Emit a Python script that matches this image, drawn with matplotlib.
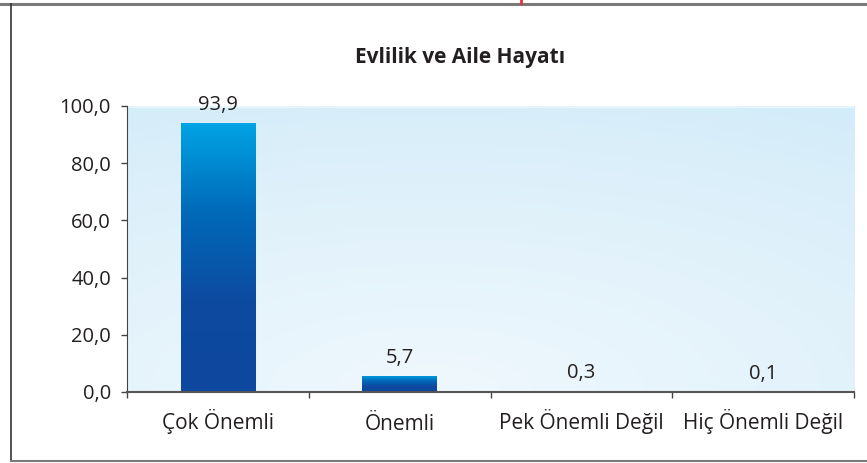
import numpy as np
import matplotlib
matplotlib.use("Agg")
import matplotlib.pyplot as plt
from matplotlib.colors import LinearSegmentedColormap
from matplotlib.lines import Line2D

categories = ["Çok Önemli", "Önemli", "Pek Önemli Değil", "Hiç Önemli Değil"]
values = [93.9, 5.7, 0.3, 0.1]
yticks = [0, 20, 40, 60, 80, 100]

plt.rcParams['font.family'] = ['Open Sans', 'DejaVu Sans']

fig = plt.figure(figsize=(8.67, 4.63), dpi=100)
ax = fig.add_axes([127 / 867, 1 - 392 / 463, (854 - 127) / 867, (392 - 106) / 463])

x = np.arange(len(categories))
n = len(categories)

# background: light in the lower middle, a bit deeper blue toward top / sides
gx, gy = np.meshgrid(np.linspace(0, 1, 300), np.linspace(0, 1, 300))
t = np.sqrt(((gx - 0.42) * 1.0) ** 2 + ((gy - 1.0) * 1.0) ** 2) / 1.2
t = np.clip(t, 0, 1)
bg_cmap = LinearSegmentedColormap.from_list("bg", ["#eff8fd", "#e2f2fb", "#d3ecf9"])
ax.imshow(t, cmap=bg_cmap, extent=(-0.5, n - 0.5, 0, 100),
          aspect='auto', zorder=0, origin='upper', interpolation='bilinear')
ax.axhline(99.6, color="#e6f5fc", lw=1.5, zorder=1)

bars = ax.bar(x, values, width=0.41, color="none", zorder=2)
bar_cmap = LinearSegmentedColormap.from_list("bar", ["#0d479e", "#0d4aa0", "#0069b8", "#00a4e4"])
grad = np.linspace(0, 1, 256).reshape(-1, 1)
for b in bars:
    x0, w, h = b.get_x(), b.get_width(), b.get_height()
    im = ax.imshow(grad, cmap=bar_cmap, extent=(x0, x0 + w, 0, h),
                   aspect='auto', origin='lower', zorder=2)
    im.set_clip_path(b)
    ax.annotate(f"{h:.1f}".replace(".", ","), (b.get_x() + w / 2, h),
                xytext=(0, 9.5), textcoords="offset points",
                ha="center", va="baseline", fontsize=14.5, color="#231f20")

ax.set_xlim(-0.5, n - 0.5)
ax.set_ylim(0, 100)

ax.set_yticks(yticks)
ax.set_yticklabels([f"{v:.1f}".replace(".", ",") for v in yticks])
ax.set_xticks(x)
ax.set_xticklabels(categories)
ax.tick_params(axis="x", length=0, pad=27, labelsize=15, labelcolor="#231f20")
for lbl in ax.get_xticklabels():
    lbl.set_verticalalignment("baseline")
ax.set_xticks(np.arange(n + 1) - 0.5, minor=True)
ax.tick_params(axis="x", which="minor", length=4.5, width=1, color="#444444")
ax.tick_params(axis="y", length=4.5, width=1, color="#444444", labelsize=14.5,
               labelcolor="#231f20", pad=7)

for s in ["top", "right"]:
    ax.spines[s].set_visible(False)
ax.spines["left"].set_color("#444444")
ax.spines["bottom"].set_color("#555555")
ax.spines["bottom"].set_linewidth(1.5)

fig.text(460 / 867, 1 - 58 / 463, "Evlilik ve Aile Hayatı", ha="center", va="center",
         fontsize=15, fontweight="bold", color="#231f20")

# outer frame
fig.add_artist(Line2D([0, 1], [1 - 4 / 463] * 2, color="#7a7a7a", lw=2.2))
fig.add_artist(Line2D([11 / 867] * 2, [1 - 4 / 463, 1 - 461 / 463], color="#333333", lw=1.2))
fig.add_artist(Line2D([11 / 867, 1], [1 - 461 / 463] * 2, color="#7a7a7a", lw=1.5))
fig.add_artist(Line2D([521 / 867] * 2, [1, 1 - 3 / 463], color="#e8303a", lw=2))

fig.savefig("out.png", dpi=100)
